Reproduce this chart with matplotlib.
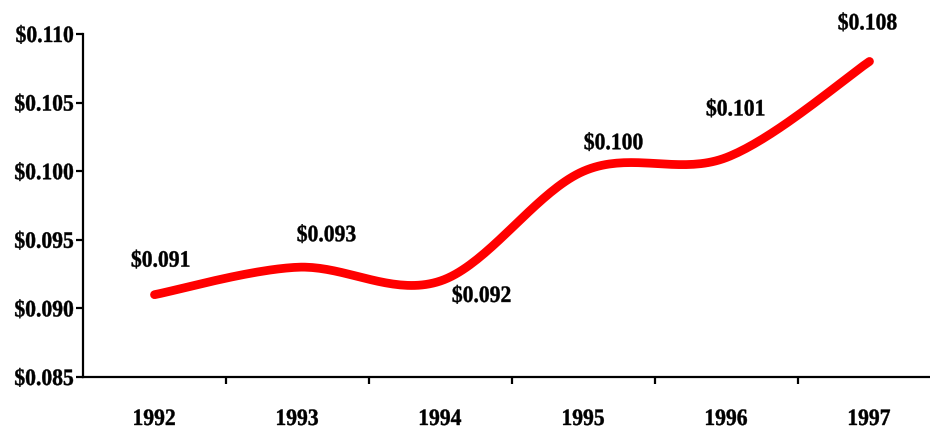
import numpy as np
import matplotlib
matplotlib.use("Agg")
import matplotlib.pyplot as plt
from matplotlib.textpath import TextPath
from matplotlib.patches import PathPatch
from matplotlib.font_manager import FontProperties
from matplotlib.transforms import Affine2D

years = ["1992", "1993", "1994", "1995", "1996", "1997"]
prices = [0.091, 0.093, 0.092, 0.100, 0.101, 0.108]
yticks = [0.085, 0.090, 0.095, 0.100, 0.105, 0.110]
# label offsets (pixels) from each point
label_dx = [6, 29, 41, 30, 9, -2]
label_dy = [36, 34, -13, 30, 50, 40]

FONT = FontProperties(family="Liberation Serif", weight="bold")
EM = 23.5       # font size in pixels
SQUEEZE = 0.92  # horizontal squeeze for the tight, condensed look


def smooth(xs, ys, n=40):
    # cardinal spline through the points, like a spreadsheet "smoothed line"
    p = np.column_stack([xs, ys]).astype(float)
    p = np.vstack([p[0], p, p[-1]])
    out = []
    t = np.linspace(0, 1, n)[:, None]
    for i in range(1, len(p) - 2):
        p0, p1, p2, p3 = p[i - 1], p[i], p[i + 1], p[i + 2]
        c1 = p1 + (p2 - p0) / 6
        c2 = p2 - (p3 - p1) / 6
        seg = ((1 - t) ** 3) * p1 + 3 * ((1 - t) ** 2) * t * c1 \
            + 3 * (1 - t) * t ** 2 * c2 + t ** 3 * p2
        out.append(seg if i == 1 else seg[1:])
    return np.vstack(out)


def put_text(fig, px, py, s, ha="center"):
    # px, py in display pixels; py is the middle of the digit height
    tp = TextPath((0, 0), s, size=EM, prop=FONT)
    ext = tp.get_extents()
    if ha == "center":
        sx = -(ext.x0 + ext.x1) / 2 * SQUEEZE
    else:
        sx = -ext.x1 * SQUEEZE
    tr = Affine2D().scale(SQUEEZE, 1).translate(px + sx, py - 0.34 * EM)
    patch = PathPatch(tp, transform=tr, facecolor="black",
                      edgecolor="black", lw=0.3)
    fig.add_artist(patch)


W, H = 930, 431
fig = plt.figure(figsize=(W / 100, H / 100), dpi=100)
ax = fig.add_axes([83 / W, 1 - 378 / H, (941 - 83) / W, (378 - 35) / H])

x = np.arange(len(years))
curve = smooth(x, prices)
ax.plot(curve[:, 0], curve[:, 1], color="#ff0000", lw=6.3,
        solid_capstyle="round", clip_on=False)

ax.set_xlim(-0.5, len(years) - 0.5)
ax.set_ylim(0.085, 0.110)
ax.set_yticks(yticks)
ax.set_yticklabels([])
ax.set_xticks(x)
ax.set_xticklabels([])
ax.set_xticks(np.arange(0.5, len(years) - 0.5, 1), minor=True)

for s in ["top", "right"]:
    ax.spines[s].set_visible(False)
for s in ["left", "bottom"]:
    ax.spines[s].set_linewidth(1.6)

ax.tick_params(axis="y", length=5, width=1.6)
ax.tick_params(axis="x", which="major", length=0)
ax.tick_params(axis="x", which="minor", length=5, width=1.6)

# tick labels
for v in yticks:
    px, py = ax.transData.transform((-0.5, v))
    put_text(fig, 73, py, f"${v:.3f}", ha="right")
for xi, yr in zip(x, years):
    px, _ = ax.transData.transform((xi, 0.085))
    put_text(fig, px, H - 418, yr)

# value labels
for xi, v, dx, dy in zip(x, prices, label_dx, label_dy):
    px, py = ax.transData.transform((xi, v))
    put_text(fig, px + dx, py + dy, f"${v:.3f}")

fig.savefig("out.png", dpi=100)
